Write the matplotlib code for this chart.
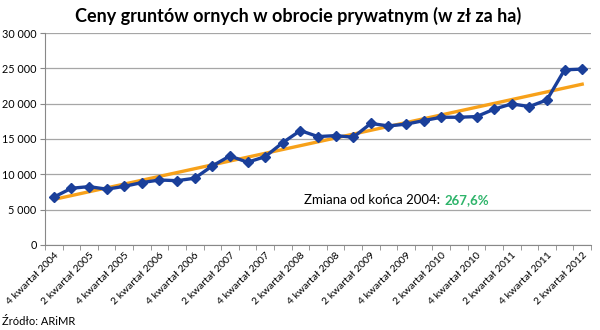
import numpy as np
import matplotlib
matplotlib.use('Agg')
import matplotlib.pyplot as plt
from matplotlib.ticker import FuncFormatter, MultipleLocator

# Quarterly prices, 4Q2004 .. 2Q2012 (zl/ha)
quarters = ['4 kwartał 2004', '1 kwartał 2005', '2 kwartał 2005', '3 kwartał 2005',
            '4 kwartał 2005', '1 kwartał 2006', '2 kwartał 2006', '3 kwartał 2006',
            '4 kwartał 2006', '1 kwartał 2007', '2 kwartał 2007', '3 kwartał 2007',
            '4 kwartał 2007', '1 kwartał 2008', '2 kwartał 2008', '3 kwartał 2008',
            '4 kwartał 2008', '1 kwartał 2009', '2 kwartał 2009', '3 kwartał 2009',
            '4 kwartał 2009', '1 kwartał 2010', '2 kwartał 2010', '3 kwartał 2010',
            '4 kwartał 2010', '1 kwartał 2011', '2 kwartał 2011', '3 kwartał 2011',
            '4 kwartał 2011', '1 kwartał 2012', '2 kwartał 2012']
prices = [6770, 8030, 8260, 7900, 8300, 8830, 9200, 9100, 9450, 11190,
          12600, 11710, 12500, 14490, 16190, 15340, 15480, 15250, 17200, 16850,
          17100, 17600, 18080, 18080, 18170, 19220, 19970, 19590, 20540, 24790,
          24890]
change_label = '267,6%'

plt.rcParams['font.family'] = ['Lato', 'DejaVu Sans']

fig = plt.figure(figsize=(6, 3.3), dpi=100)
ax = fig.add_axes([0.075, 0.2576, 0.91, 0.6424])

x = np.arange(len(prices))
a, b = np.polyfit(x, prices, 1)  # linear trend, like Excel's trendline

ax.plot(x, a * x + b, color='#f7a11a', lw=2.4, zorder=2)
ax.plot(x, prices, color='#1a3f9a', lw=2.4, marker='D', markersize=5.5, zorder=3)

ax.set_xlim(-0.5, len(prices) - 0.5)
ax.set_ylim(0, 30000)
ax.yaxis.set_major_locator(MultipleLocator(5000))
ax.yaxis.set_major_formatter(FuncFormatter(lambda v, p: f'{int(v):,}'.replace(',', ' ')))
ax.grid(axis='y', color='#a6a6a6', lw=0.9)
ax.set_axisbelow(True)

ax.set_xticks(x[::2])
ax.set_xticklabels(quarters[::2], rotation=45, ha='right', rotation_mode='anchor')
ax.set_xticks(np.arange(-0.5, len(prices)), minor=True)
ax.tick_params(axis='x', which='major', length=0, labelsize=7.5, pad=4)
ax.tick_params(axis='x', which='minor', length=3.5, color='#888888')
ax.tick_params(axis='y', length=3.5, color='#888888', labelsize=7.8, pad=2.5)

for s in ['top', 'right']:
    ax.spines[s].set_visible(False)
for s in ['left', 'bottom']:
    ax.spines[s].set_color('#888888')

fig.text(0.497, 0.953, 'Ceny gruntów ornych w obrocie prywatnym (w zł za ha)',
         ha='center', va='center', fontsize=13, fontweight='bold')
ax.text(0.724, 0.212, 'Zmiana od końca 2004:', transform=ax.transAxes,
        fontsize=9.5, va='center', ha='right')
ax.text(0.731, 0.212, change_label, transform=ax.transAxes,
        fontsize=9.5, va='center', ha='left', color='#2eb46a', fontweight='bold')
fig.text(0.003, 0.01, 'Źródło: ARiMR', fontsize=8, ha='left', va='bottom')

fig.savefig('out.png', dpi=100)
